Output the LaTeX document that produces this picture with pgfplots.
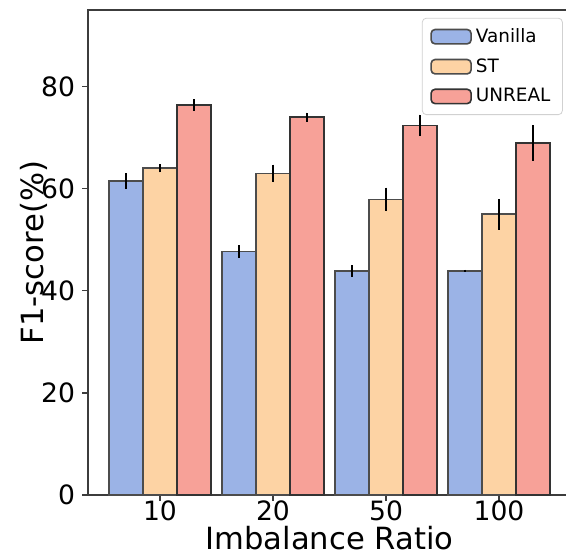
\documentclass[border=0pt]{standalone}
\usepackage{pgfplots}
\pgfplotsset{compat=1.18}
\usepackage{fontspec}
\setmainfont{DejaVu Sans}
\definecolor{cvan}{RGB}{155,179,230}
\definecolor{cst}{RGB}{253,211,164}
\definecolor{cun}{RGB}{247,161,152}
\definecolor{framec}{RGB}{60,60,60}
\pgfplotstableread{
x van vanerr st sterr un unerr
0 61.5 1.5 64.0 0.8 76.4 1.1
1 47.7 1.2 63.0 1.7 74.0 0.9
2 43.9 1.15 57.9 2.3 72.4 2.1
3 43.9 0.2 55.0 3.0 69.0 3.5
}\datatable
\pgfplotsset{
  mylegend/.style={legend image code/.code={\draw[##1,line width=0.8pt] (0pt,-3.6pt) rectangle (20pt,3.6pt);}},
}
\begin{document}
\begin{tikzpicture}
\begin{axis}[
  name=ax,
  scale only axis,
  width=241.5pt, height=242.5pt,
  xmin=-0.637, xmax=3.637,
  ymin=0, ymax=95,
  ybar=0pt, bar width=0.3,
  xtick={0,1,2,3}, xticklabels={10,20,50,100},
  ytick={0,20,40,60,80},
  xtick pos=bottom, ytick pos=left,
  tick align=outside,
  major tick length=3pt,
  tick style={framec, line width=0.6pt},
  axis line style={framec, line width=0.9pt},
  /pgf/number format/assume math mode=true,
  ticklabel style={font=\fontsize{13.3}{15}\selectfont},
  label style={font=\fontsize{15.3}{18}\selectfont},
  xlabel={Imbalance Ratio},
  ylabel={F1-score(\%)},
  xlabel style={yshift=4.5pt},
  ylabel style={yshift=-10pt},
  xticklabel style={yshift=3.5pt},
  error bars/y dir=both,
  error bars/y explicit,
  error bars/error mark=none,
  error bars/error bar style={line width=0.75pt, black},
  legend style={at={(rel axis cs:0.983,0.984)}, anchor=north east,
    draw=black!18, rounded corners=2pt, fill=white,
    font=\fontsize{9.2}{11}\selectfont, row sep=2.6pt,
    inner xsep=4pt, inner ysep=3pt},
  legend cell align=left,
]
\addplot[fill=cvan, draw=black!70, line width=0.8pt, mylegend]
  table[x=x, y=van, y error=vanerr] {\datatable};
\addlegendentry{Vanilla}
\addplot[fill=cst, draw=black!70, line width=0.8pt, mylegend]
  table[x=x, y=st, y error=sterr] {\datatable};
\addlegendentry{ST}
\addplot[fill=cun, draw=black!80, line width=0.8pt, mylegend]
  table[x=x, y=un, y error=unerr] {\datatable};
\addlegendentry{UNREAL}
\end{axis}
\pgfresetboundingbox
\path[use as bounding box] ([shift={(-44pt,-32pt)}]ax.south west) rectangle ([shift={(239pt,247.5pt)}]ax.south west);
\end{tikzpicture}
\end{document}
